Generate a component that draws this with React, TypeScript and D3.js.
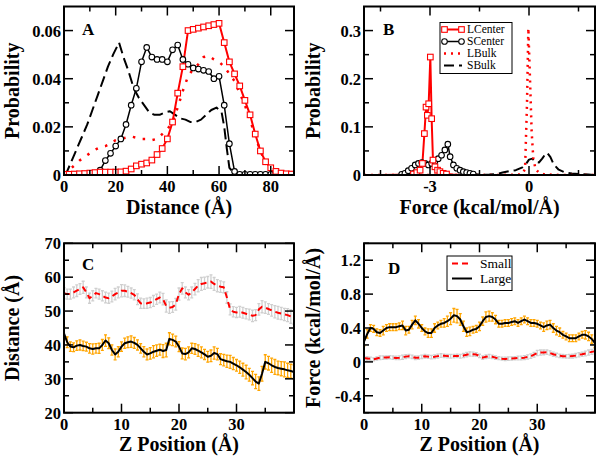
import React from "react";
import * as d3 from "d3";

const FONT = "'Liberation Serif', 'Times New Roman', serif";

// ---------- Panel A data ----------
const aDist = [0,2,4,6,8,10,12,14,16,18,20,22,24,26,28,30,32,34,36,38,40,42,44,46,48,50,52,54,56,58,60,62,64,66,68,70,72,74,76,78,80,82,84,86,88];
const aLCenter = [0.0003,0.0003,0.0004,0.0005,0.0006,0.0008,0.0010,0.0012,0.0012,0.0012,0.0012,0.0013,0.0016,0.0025,0.0038,0.0045,0.0050,0.0062,0.0085,0.011,0.015,0.022,0.034,0.045,0.060,0.0605,0.061,0.0615,0.062,0.0625,0.063,0.055,0.047,0.042,0.037,0.031,0.025,0.017,0.010,0.0055,0.003,0.0015,0.0008,0.0005,0.0004];
const aSCenter = [0.0003,0.0003,0.0003,0.0003,0.0004,0.0005,0.0008,0.002,0.006,0.009,0.012,0.015,0.021,0.029,0.036,0.047,0.053,0.049,0.048,0.048,0.047,0.052,0.054,0.048,0.046,0.0445,0.044,0.0435,0.043,0.040,0.041,0.029,0.013,0.0015,0.0003,0.0003,0.0003,0.0003,0.0003,0.0003,0.0003,0.0003,0.0003,0.0003,0.0003];
const aLBulk = [0.0005,0.002,0.004,0.006,0.0075,0.009,0.0105,0.0115,0.012,0.013,0.0145,0.015,0.0155,0.016,0.0155,0.015,0.015,0.0145,0.015,0.017,0.019,0.022,0.028,0.035,0.041,0.044,0.046,0.049,0.0495,0.048,0.047,0.045,0.042,0.039,0.034,0.029,0.023,0.016,0.010,0.005,0.002,0.001,0.0005,0.0003,0.0003];
const aSBulkX = [0,1,3,5,7,9,11,13,15,17,19,21.3,23,25,27,29,31,33,35,37,39,41,43,45,47,49,51,53,55,57,59,61,62,63,64,66,70,80,88];
const aSBulkY = [0,0.001,0.006,0.011,0.016,0.021,0.027,0.033,0.039,0.045,0.050,0.055,0.049,0.043,0.036,0.032,0.029,0.026,0.025,0.025,0.026,0.0265,0.025,0.0235,0.023,0.022,0.022,0.023,0.025,0.027,0.028,0.026,0.02,0.011,0.003,0.0005,0.0002,0.0002,0.0002];
const aXTicks = [0,20,40,60,80];
const aXTickLabels = ["0","20","40","60","80"];
const aXMinor = [10,30,50,70];
const aYTicks = [0,0.02,0.04,0.06];
const aYTickLabels = ["0","0.02","0.04","0.06"];
const aYMinor = [0.01,0.03,0.05];

// ---------- Panel B data ----------
const bLCenterX = [-5,-4.5,-4,-3.6,-3.5,-3.4,-3.3,-3.23,-3.17,-3.12,-3.08,-3.04,-2.99,-2.95,-2.91,-2.85,-2.77,-2.7,-2.6,-2.5,-2.3,-2,-1,0,1,2];
const bLCenterY = [0,0,0.0005,0.001,0.002,0.005,0.01,0.024,0.086,0.141,0.124,0.148,0.245,0.117,0.031,0.017,0.01,0.007,0.0035,0.002,0.001,0,0,0,0,0];
const bSCenterX = [-5,-4.5,-4,-3.86,-3.76,-3.66,-3.56,-3.45,-3.35,-3.25,-3.15,-3.05,-2.95,-2.85,-2.75,-2.65,-2.55,-2.46,-2.39,-2.29,-2.19,-2.09,-1.99,-1.89,-1.79,-1.69,-1.5,-1,0,1,2];
const bSCenterY = [0,0,0.0005,0.0015,0.0034,0.009,0.014,0.021,0.024,0.026,0.024,0.021,0.024,0.028,0.034,0.041,0.052,0.064,0.038,0.021,0.014,0.010,0.007,0.005,0.0035,0.002,0.001,0,0,0,0];
const bLBulkX = [-5,-2,-1,-0.5,-0.3,-0.2,-0.12,-0.06,-0.02,0.03,0.08,0.13,0.2,0.3,0.43,0.6,1,2];
const bLBulkY = [0,0,0,0.0005,0.001,0.003,0.012,0.15,0.305,0.2,0.09,0.035,0.012,0.005,0.002,0.001,0,0];
const bSBulkX = [-5,-2,-1.5,-1.2,-1,-0.8,-0.6,-0.4,-0.2,-0.1,0,0.1,0.2,0.3,0.4,0.5,0.55,0.65,0.75,0.9,1.1,1.3,1.5,1.8,2];
const bSBulkY = [0,0,0.0005,0.001,0.002,0.005,0.008,0.010,0.016,0.022,0.032,0.034,0.027,0.026,0.034,0.044,0.046,0.037,0.022,0.011,0.005,0.003,0.002,0.001,0];
const bXTicks = [-3,0];
const bXTickLabels = ["-3","0"];
const bXMinor = [-4.5,-1.5,1.5];
const bYTicks = [0,0.1,0.2,0.3];
const bYTickLabels = ["0","0.1","0.2","0.3"];
const bYMinor = [0.05,0.15,0.25];
const bLegend = ["LCenter","SCenter","LBulk","SBulk"];

// ---------- Panels C & D data ----------
const zPos = [0,0.56,1.11,1.67,2.22,2.78,3.33,3.89,4.44,5,5.56,6.11,6.67,7.22,7.78,8.33,8.89,9.44,10,10.56,11.11,11.67,12.22,12.78,13.33,13.89,14.44,15,15.56,16.11,16.67,17.22,17.78,18.33,18.89,19.44,20,20.56,21.11,21.67,22.22,22.78,23.33,23.89,24.44,25,25.56,26.11,26.67,27.22,27.78,28.33,28.89,29.44,30,30.56,31.11,31.67,32.22,32.78,33.33,33.89,34.44,35,35.56,36.11,36.67,37.22,37.78,38.33,38.89,39.44,40];
const cSmall = [55.3,55,55,55.5,56,56.5,57,55.5,53.8,54.5,55.3,55,54.5,54,53.8,54.3,55,55.5,56,56,55.7,55.3,54.8,53.5,52.3,52.2,52.3,52.5,53,53.5,54,53.5,51.5,51,51.2,52,55,56.7,55.5,54.8,55.5,56.5,57.5,58,58.2,58.5,58.7,58,57.5,57.2,57,54,50.5,49.8,49.6,49.8,49.5,49.2,49,48.6,48.8,50.5,51.3,51,50.6,50.2,49.8,49.5,49.3,49,48.8,48.4,48];
const cSmallErr = [1.6,1.5,1.5,1.6,1.7,1.6,1.8,1.6,1.5,1.5,1.4,1.5,1.5,1.6,1.5,1.6,1.7,1.6,1.8,1.7,1.6,1.5,1.5,1.6,1.5,1.4,1.5,1.5,1.6,1.5,1.6,1.7,1.8,1.7,1.6,1.7,1.8,1.7,1.6,1.5,1.6,1.7,1.8,1.9,1.8,1.7,2.0,1.9,1.8,1.7,1.6,1.7,1.6,1.5,1.5,1.6,1.6,1.5,1.6,1.7,1.6,1.7,1.8,1.7,1.6,1.7,1.8,1.9,1.8,1.8,1.9,2.0,1.9];
const cLarge = [43.4,40.8,39.5,39.3,39.8,40,39.7,39.5,39,38.8,39,39,40,41.3,40.5,38.5,37.2,38,39.5,40.5,40.8,41,40.6,40,39,38,37.2,37.5,38,38.3,38.6,38.2,38.5,41.8,41.5,41,39.5,37.5,37.3,37.8,39,38.8,38.3,37.8,37.2,36.5,36.8,37.6,37.3,35.8,35.5,35.2,35,34.5,34,33.4,32.7,32,31.2,30.2,29.2,28.6,31.5,35,34.6,34,33.5,33.2,33,32.8,32.5,32.3,32];
const cLargeErr = [1.8,1.6,1.4,1.3,1.4,1.5,1.4,1.3,1.4,1.5,1.4,1.5,1.6,1.7,1.6,1.5,1.6,1.5,1.4,1.5,1.6,1.7,1.6,1.5,1.4,1.5,1.6,1.7,1.8,1.7,1.6,1.9,2.0,1.8,1.7,1.6,1.5,1.6,1.7,1.6,1.5,1.6,1.7,1.6,1.5,1.6,1.7,1.8,1.7,1.6,1.7,1.8,1.9,1.8,1.7,1.8,1.9,2.0,1.9,2.0,2.1,2.0,2.2,2.1,2.0,2.1,2.2,2.0,2.1,2.2,2.1,2.0,2.1];
const dLarge = [0.24,0.33,0.40,0.39,0.35,0.34,0.37,0.40,0.41,0.41,0.41,0.42,0.43,0.37,0.38,0.44,0.49,0.45,0.40,0.36,0.34,0.34,0.40,0.43,0.45,0.46,0.48,0.51,0.55,0.54,0.50,0.42,0.35,0.36,0.38,0.39,0.42,0.48,0.53,0.54,0.53,0.50,0.45,0.45,0.46,0.46,0.47,0.48,0.46,0.48,0.50,0.48,0.46,0.46,0.45,0.43,0.41,0.43,0.44,0.40,0.37,0.35,0.32,0.30,0.28,0.28,0.28,0.30,0.32,0.32,0.30,0.27,0.22];
const dLargeErr = [0.05,0.05,0.04,0.04,0.04,0.04,0.05,0.04,0.04,0.04,0.04,0.04,0.05,0.05,0.04,0.05,0.05,0.05,0.04,0.04,0.05,0.05,0.05,0.04,0.04,0.05,0.06,0.07,0.08,0.08,0.07,0.06,0.05,0.05,0.04,0.04,0.05,0.05,0.06,0.06,0.05,0.05,0.04,0.04,0.04,0.04,0.04,0.04,0.04,0.04,0.04,0.04,0.04,0.04,0.04,0.04,0.05,0.05,0.05,0.05,0.05,0.05,0.04,0.04,0.04,0.04,0.04,0.04,0.04,0.05,0.05,0.05,0.05];
const dSmall = [0.045,0.04,0.035,0.03,0.04,0.05,0.05,0.052,0.055,0.05,0.047,0.048,0.055,0.062,0.067,0.06,0.048,0.05,0.06,0.067,0.062,0.056,0.06,0.068,0.075,0.072,0.068,0.067,0.068,0.07,0.067,0.075,0.085,0.094,0.09,0.086,0.07,0.05,0.06,0.067,0.06,0.05,0.045,0.038,0.035,0.038,0.04,0.043,0.046,0.047,0.05,0.058,0.067,0.085,0.105,0.11,0.112,0.114,0.105,0.09,0.08,0.072,0.067,0.066,0.066,0.068,0.075,0.085,0.09,0.1,0.11,0.118,0.125];
const dSmallErr = [0.02,0.022,0.02,0.018,0.02,0.022,0.02,0.02,0.018,0.02,0.02,0.022,0.024,0.022,0.02,0.02,0.022,0.02,0.02,0.022,0.02,0.02,0.022,0.024,0.022,0.02,0.02,0.022,0.02,0.02,0.022,0.024,0.026,0.025,0.024,0.022,0.02,0.02,0.022,0.022,0.02,0.02,0.018,0.018,0.02,0.02,0.02,0.02,0.022,0.022,0.024,0.025,0.026,0.028,0.03,0.03,0.028,0.026,0.025,0.024,0.022,0.02,0.02,0.02,0.022,0.022,0.024,0.025,0.026,0.028,0.03,0.03,0.03];
const zTicks = [0,10,20,30];
const zTickLabels = ["0","10","20","30"];
const zMinor = [5,15,25,35];
const cYTicks = [20,30,40,50,60,70];
const cYTickLabels = ["20","30","40","50","60","70"];
const cYMinor = [25,35,45,55,65];
const dYTicks = [-0.4,0,0.4,0.8,1.2];
const dYTickLabels = ["-0.4","0","0.4","0.8","1.2"];
const dYMinor = [-0.6,-0.2,0.2,0.6,1.0,1.4];
const dLegend = ["Small","Large"];

type Series = {
  x: number[];
  y: number[];
  color: string;
  width: number;
  dash?: string;
  marker?: "square" | "circle";
  markerMin?: number;
  err?: number[];
  errColor?: string;
};

type PanelProps = {
  id: string;
  x0: number; x1: number; y0: number; y1: number;
  xDomain: [number, number]; yDomain: [number, number];
  xTicks: number[]; xTickLabels: string[]; xMinor: number[];
  yTicks: number[]; yTickLabels: string[]; yMinor: number[];
  xTitle: string; yTitle: string; yTitleX: number;
  letter: string; letterX: number; letterY: number;
  series: Series[];
  children?: (xs: d3.ScaleLinear<number, number>, ys: d3.ScaleLinear<number, number>) => React.ReactNode;
};

function Marker({ kind, cx, cy, color }: { kind: "square" | "circle"; cx: number; cy: number; color: string }) {
  if (kind === "square") {
    return <rect x={cx - 2.8} y={cy - 2.8} width={5.6} height={5.6} fill="white" stroke={color} strokeWidth={1.1} />;
  }
  return <circle cx={cx} cy={cy} r={2.8} fill="white" stroke={color} strokeWidth={1.1} />;
}

function Panel(p: PanelProps) {
  const xs = d3.scaleLinear().domain(p.xDomain).range([p.x0, p.x1]);
  const ys = d3.scaleLinear().domain(p.yDomain).range([p.y1, p.y0]);
  const MAJ = 9, MIN = 5;
  const inX = (v: number) => v >= p.xDomain[0] - 1e-9 && v <= p.xDomain[1] + 1e-9;
  const inY = (v: number) => v >= Math.min(...p.yDomain) - 1e-9 && v <= Math.max(...p.yDomain) + 1e-9;
  const clipId = "clip-" + p.id;
  return (
    <g>
      <defs>
        <clipPath id={clipId}>
          <rect x={p.x0} y={p.y0} width={p.x1 - p.x0} height={p.y1 - p.y0} />
        </clipPath>
      </defs>
      <g clipPath={`url(#${clipId})`}>
        {p.series.map((s, si) =>
          s.err ? (
            <g key={"e" + si} stroke={s.errColor} strokeWidth={1.3}>
              {s.y.map((v, i) => {
                const e = s.err![i];
                const cx = xs(s.x[i]);
                return (
                  <g key={i}>
                    <line x1={cx} x2={cx} y1={ys(v - e)} y2={ys(v + e)} />
                    <line x1={cx - 1.5} x2={cx + 1.5} y1={ys(v - e)} y2={ys(v - e)} />
                    <line x1={cx - 1.5} x2={cx + 1.5} y1={ys(v + e)} y2={ys(v + e)} />
                  </g>
                );
              })}
            </g>
          ) : null
        )}
        {p.series.map((s, si) => {
          const line = d3
            .line<number>()
            .x((_, i) => xs(s.x[i]))
            .y((d) => ys(d));
          return (
            <path
              key={"l" + si}
              d={line(s.y) || ""}
              fill="none"
              stroke={s.color}
              strokeWidth={s.width}
              strokeDasharray={s.dash}
              strokeLinejoin="round"
            />
          );
        })}
        {p.series.map((s, si) =>
          s.marker ? (
            <g key={"m" + si}>
              {s.y.map((v, i) =>
                v >= (s.markerMin ?? -Infinity) ? (
                  <Marker key={i} kind={s.marker!} cx={xs(s.x[i])} cy={ys(v)} color={s.color} />
                ) : null
              )}
            </g>
          ) : null
        )}
      </g>
      <g stroke="black" strokeWidth={1.5}>
        {p.xTicks.filter(inX).map((t) => (
          <g key={"xt" + t}>
            <line x1={xs(t)} x2={xs(t)} y1={p.y1} y2={p.y1 - MAJ} />
            <line x1={xs(t)} x2={xs(t)} y1={p.y0} y2={p.y0 + MAJ} />
          </g>
        ))}
        {p.xMinor.filter(inX).map((t) => (
          <g key={"xm" + t}>
            <line x1={xs(t)} x2={xs(t)} y1={p.y1} y2={p.y1 - MIN} />
            <line x1={xs(t)} x2={xs(t)} y1={p.y0} y2={p.y0 + MIN} />
          </g>
        ))}
        {p.yTicks.filter(inY).map((t) => (
          <g key={"yt" + t}>
            <line x1={p.x0} x2={p.x0 + MAJ} y1={ys(t)} y2={ys(t)} />
            <line x1={p.x1} x2={p.x1 - MAJ} y1={ys(t)} y2={ys(t)} />
          </g>
        ))}
        {p.yMinor.filter(inY).map((t) => (
          <g key={"ym" + t}>
            <line x1={p.x0} x2={p.x0 + MIN} y1={ys(t)} y2={ys(t)} />
            <line x1={p.x1} x2={p.x1 - MIN} y1={ys(t)} y2={ys(t)} />
          </g>
        ))}
      </g>
      <rect x={p.x0} y={p.y0} width={p.x1 - p.x0} height={p.y1 - p.y0} fill="none" stroke="black" strokeWidth={2} />
      <g fontFamily={FONT} fontWeight="bold" fontSize={16.5} fill="black">
        {p.xTicks.map((t, i) => (
          <text key={"xl" + t} x={xs(t)} y={p.y1 + 17} textAnchor="middle">
            {p.xTickLabels[i]}
          </text>
        ))}
        {p.yTicks.map((t, i) => (
          <text key={"yl" + t} x={p.x0 - 3} y={ys(t) + 6} textAnchor="end">
            {p.yTickLabels[i]}
          </text>
        ))}
      </g>
      <g fontFamily={FONT} fontWeight="bold" fontSize={20} fill="black">
        <text x={(p.x0 + p.x1) / 2} y={p.y1 + 38.5} textAnchor="middle">
          {p.xTitle}
        </text>
        <text
          transform={`translate(${p.yTitleX},${(p.y0 + p.y1) / 2}) rotate(-90)`}
          textAnchor="middle"
        >
          {p.yTitle}
        </text>
        <text x={p.letterX} y={p.letterY} fontSize={17}>
          {p.letter}
        </text>
      </g>
      {p.children ? p.children(xs, ys) : null}
    </g>
  );
}

const RED = "#ff0000";
const ORANGE = "#ffa500";
const GREY = "#cfcfcf";

export default function App() {
  const X0L = 64, X1L = 294, X0R = 364, X1R = 595;
  const YT1 = 6.5, YB1 = 175, YT2 = 243.3, YB2 = 412.7;

  const bLegendStyles: Series[] = [
    { x: [], y: [], color: RED, width: 2, marker: "square" },
    { x: [], y: [], color: "black", width: 1.5, marker: "circle" },
    { x: [], y: [], color: RED, width: 2.5, dash: "2,5" },
    { x: [], y: [], color: "black", width: 2, dash: "10,5" },
  ];
  const bLegendRows = [29.5, 41.5, 53.5, 65.5];

  const dLegendStyles: Series[] = [
    { x: [], y: [], color: RED, width: 2, dash: "6,4" },
    { x: [], y: [], color: "black", width: 2 },
  ];
  const dLegendRows = [263.5, 278.5];

  return (
    <svg
      width={603}
      height={462}
      viewBox="0 0 603 462"
      style={{ position: "absolute", left: 0, top: 0, background: "white" }}
    >
      <rect x={0} y={0} width={603} height={462} fill="white" />
      <Panel
        id="A"
        x0={X0L} x1={X1L} y0={YT1} y1={YB1}
        xDomain={[0, 89]} yDomain={[0, 0.07]}
        xTicks={aXTicks} xTickLabels={aXTickLabels} xMinor={aXMinor}
        yTicks={aYTicks} yTickLabels={aYTickLabels} yMinor={aYMinor}
        xTitle="Distance (Å)" yTitle="Probability" yTitleX={19}
        letter="A" letterX={82} letterY={35}
        series={[
          { x: aSBulkX, y: aSBulkY, color: "black", width: 2, dash: "11,5" },
          { x: aDist, y: aLBulk, color: RED, width: 2.5, dash: "2.5,7.5" },
          { x: aDist, y: aSCenter, color: "black", width: 1.5, marker: "circle" },
          { x: aDist, y: aLCenter, color: RED, width: 2, marker: "square" },
        ]}
      />
      <Panel
        id="B"
        x0={X0R} x1={X1R} y0={YT1} y1={YB1}
        xDomain={[-5, 2]} yDomain={[0, 0.35]}
        xTicks={bXTicks} xTickLabels={bXTickLabels} xMinor={bXMinor}
        yTicks={bYTicks} yTickLabels={bYTickLabels} yMinor={bYMinor}
        xTitle="Force (kcal/mol/Å)" yTitle="Probability" yTitleX={320}
        letter="B" letterX={383} letterY={35}
        series={[
          { x: bSBulkX, y: bSBulkY, color: "black", width: 2, dash: "10,5" },
          { x: bLBulkX, y: bLBulkY, color: RED, width: 2.5, dash: "2,5" },
          { x: bSCenterX, y: bSCenterY, color: "black", width: 1.5, marker: "circle", markerMin: 0.0015 },
          { x: bLCenterX, y: bLCenterY, color: RED, width: 2, marker: "square", markerMin: 0.002 },
        ]}
      >
        {() => (
          <g>
            <rect x={440} y={22.5} width={72} height={51} fill="white" stroke="black" strokeWidth={1} />
            {bLegend.map((name, i) => {
              const s = bLegendStyles[i];
              const yy = bLegendRows[i];
              return (
                <g key={name}>
                  <line x1={444} x2={462} y1={yy} y2={yy} stroke={s.color} strokeWidth={s.width} strokeDasharray={s.dash} />
                  {s.marker ? (
                    <>
                      <Marker kind={s.marker} cx={444.5} cy={yy} color={s.color} />
                      <Marker kind={s.marker} cx={461.5} cy={yy} color={s.color} />
                    </>
                  ) : null}
                  <text x={467} y={yy + 3.8} fontFamily={FONT} fontSize={11.5} fill="black">
                    {name}
                  </text>
                </g>
              );
            })}
          </g>
        )}
      </Panel>
      <Panel
        id="C"
        x0={X0L} x1={X1L} y0={YT2} y1={YB2}
        xDomain={[0, 40]} yDomain={[20, 70]}
        xTicks={zTicks} xTickLabels={zTickLabels} xMinor={zMinor}
        yTicks={cYTicks} yTickLabels={cYTickLabels} yMinor={cYMinor}
        xTitle="Z Position (Å)" yTitle="Distance (Å)" yTitleX={19}
        letter="C" letterX={82} letterY={270}
        series={[
          { x: zPos, y: cSmall, color: RED, width: 2, dash: "6,4", err: cSmallErr, errColor: GREY },
          { x: zPos, y: cLarge, color: "black", width: 2, err: cLargeErr, errColor: ORANGE },
        ]}
      />
      <Panel
        id="D"
        x0={X0R} x1={X1R} y0={YT2} y1={YB2}
        xDomain={[0, 40]} yDomain={[-0.6, 1.4]}
        xTicks={zTicks} xTickLabels={zTickLabels} xMinor={zMinor}
        yTicks={dYTicks} yTickLabels={dYTickLabels} yMinor={dYMinor}
        xTitle="Z Position (Å)" yTitle="Force (kcal/mol/Å)" yTitleX={320}
        letter="D" letterX={388} letterY={274}
        series={[
          { x: zPos, y: dSmall, color: RED, width: 2, dash: "6,4", err: dSmallErr, errColor: GREY },
          { x: zPos, y: dLarge, color: "black", width: 2, err: dLargeErr, errColor: ORANGE },
        ]}
      >
        {() => (
          <g>
            <rect x={447} y={256} width={65} height={34.5} fill="white" stroke="black" strokeWidth={1} />
            {dLegend.map((name, i) => {
              const s = dLegendStyles[i];
              const yy = dLegendRows[i];
              return (
                <g key={name}>
                  <line x1={452} x2={472} y1={yy} y2={yy} stroke={s.color} strokeWidth={s.width} strokeDasharray={s.dash} />
                  <text x={480} y={yy + 4.5} fontFamily={FONT} fontSize={13.5} fill="black">
                    {name}
                  </text>
                </g>
              );
            })}
          </g>
        )}
      </Panel>
    </svg>
  );
}
